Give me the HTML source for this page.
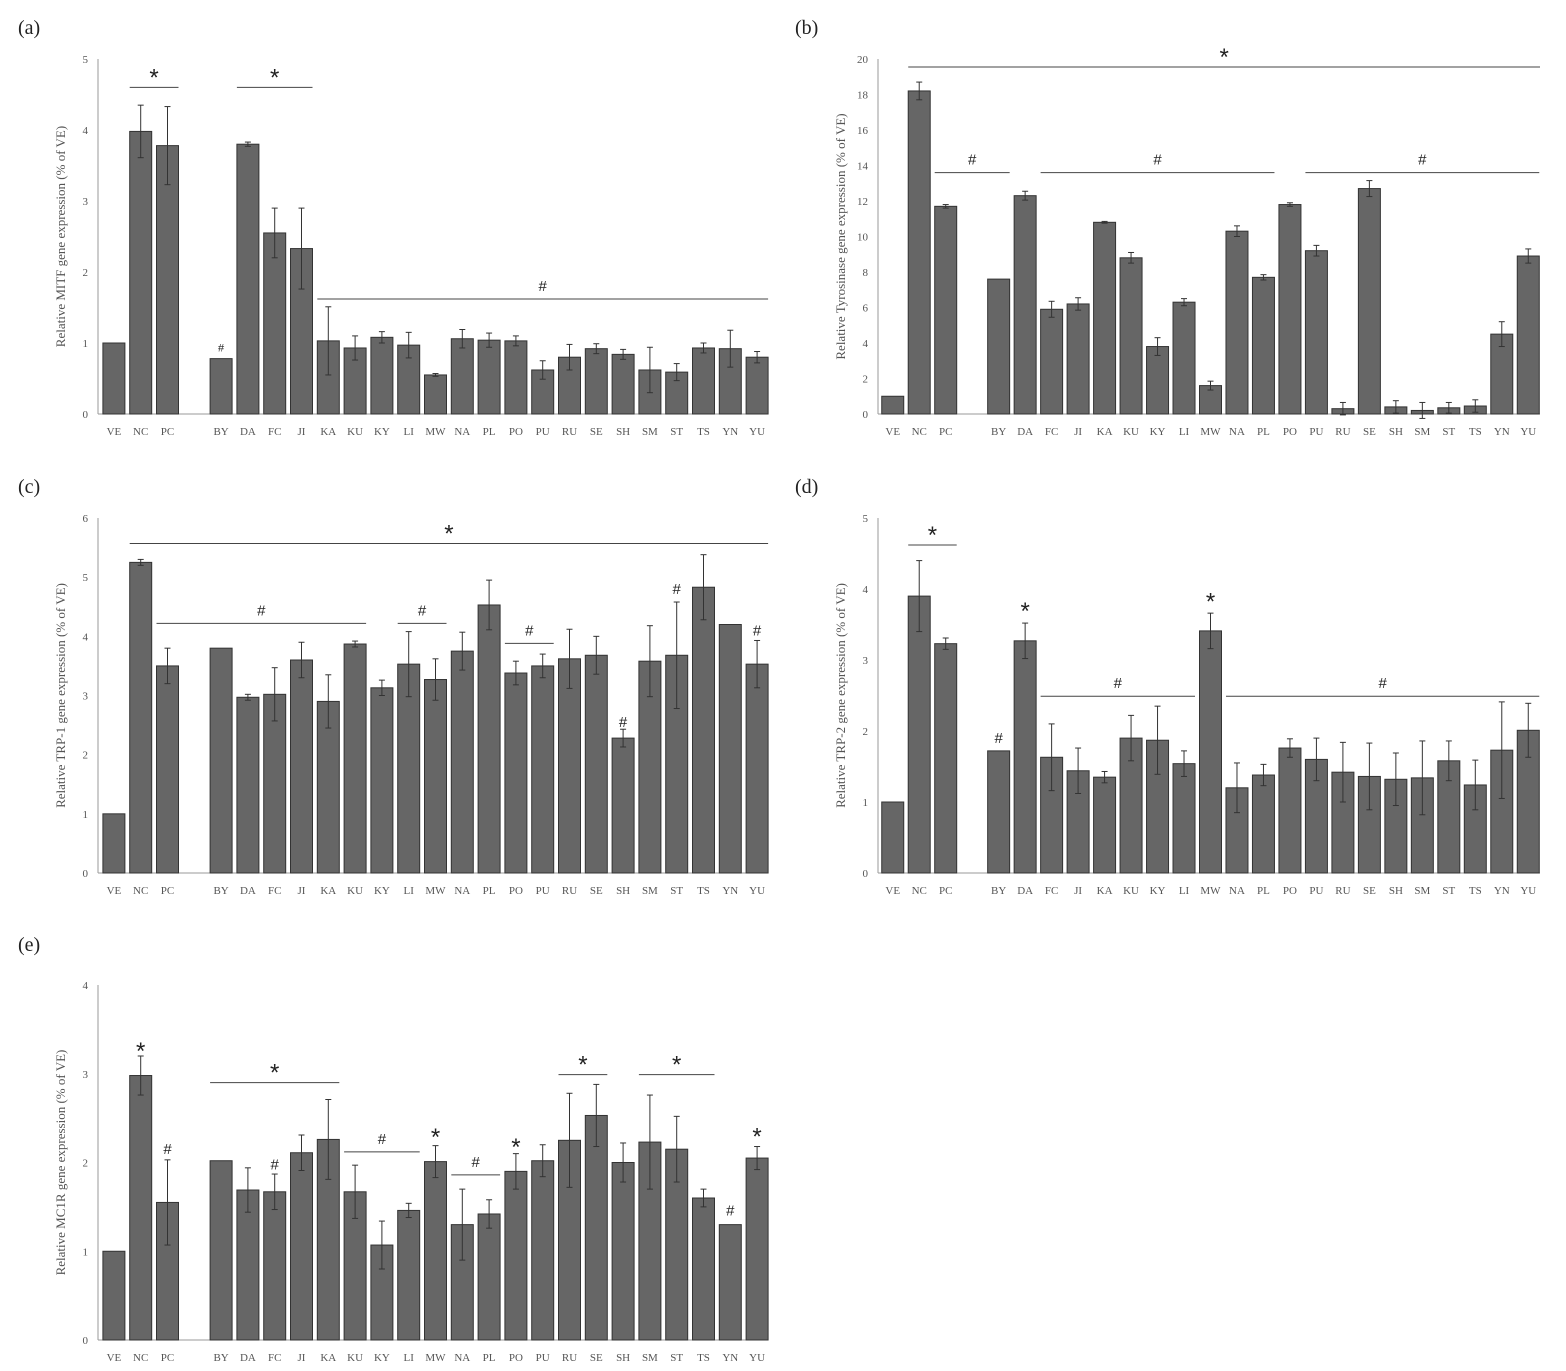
<!DOCTYPE html>
<html><head><meta charset="utf-8"><style>
body{margin:0;background:#fff}
svg{display:block;font-family:"Liberation Serif",serif}
</style></head><body>
<svg id="chart" width="1566" height="1371" viewBox="0 0 1566 1371" xmlns="http://www.w3.org/2000/svg"></svg>
<script>
const categories=["VE","NC","PC","BY","DA","FC","JI","KA","KU","KY","LI","MW","NA","PL","PO","PU","RU","SE","SH","SM","ST","TS","YN","YU"];
const valuesA=[1,3.98,3.78,0.78,3.8,2.55,2.33,1.03,0.93,1.08,0.97,0.55,1.06,1.04,1.03,0.62,0.8,0.92,0.84,0.62,0.59,0.93,0.92,0.8];
const errorsA=[0,0.37,0.55,0,0.03,0.35,0.57,0.48,0.17,0.08,0.18,0.02,0.13,0.1,0.07,0.13,0.18,0.07,0.07,0.32,0.12,0.07,0.26,0.08];
const valuesB=[1,18.2,11.7,7.6,12.3,5.9,6.2,10.8,8.8,3.8,6.3,1.6,10.3,7.7,11.8,9.2,0.3,12.7,0.4,0.2,0.35,0.45,4.5,8.9];
const errorsB=[0,0.5,0.1,0,0.25,0.45,0.35,0.05,0.3,0.5,0.2,0.25,0.3,0.15,0.1,0.3,0.35,0.45,0.35,0.45,0.3,0.35,0.7,0.4];
const valuesC=[1,5.25,3.5,3.8,2.97,3.02,3.6,2.9,3.87,3.13,3.53,3.27,3.75,4.53,3.38,3.5,3.62,3.68,2.28,3.58,3.68,4.83,4.2,3.53];
const errorsC=[0,0.05,0.3,0,0.05,0.45,0.3,0.45,0.05,0.13,0.55,0.35,0.32,0.42,0.2,0.2,0.5,0.32,0.15,0.6,0.9,0.55,0,0.4];
const valuesD=[1,3.9,3.23,1.72,3.27,1.63,1.44,1.35,1.9,1.87,1.54,3.41,1.2,1.38,1.76,1.6,1.42,1.36,1.32,1.34,1.58,1.24,1.73,2.01];
const errorsD=[0,0.5,0.08,0,0.25,0.47,0.32,0.08,0.32,0.48,0.18,0.25,0.35,0.15,0.13,0.3,0.42,0.47,0.37,0.52,0.28,0.35,0.68,0.38];
const valuesE=[1,2.98,1.55,2.02,1.69,1.67,2.11,2.26,1.67,1.07,1.46,2.01,1.3,1.42,1.9,2.02,2.25,2.53,2.0,2.23,2.15,1.6,1.3,2.05];
const errorsE=[0,0.22,0.48,0,0.25,0.2,0.2,0.45,0.3,0.27,0.08,0.18,0.4,0.16,0.2,0.18,0.53,0.35,0.22,0.53,0.37,0.1,0,0.13];
const annotA=[["*","NC","PC",4.6],["*","DA","JI",4.6],["#","KA","YU",1.62],["#s","BY","BY",0.95]];
const annotB=[["*","NC","END",19.55],["#","PC","BY",13.6],["#","FC","PL",13.6],["#","PU","YU",13.6]];
const annotC=[["*","NC","YU",5.57],["#","PC","KU",4.22],["#","LI","MW",4.22],["#","PO","PU",3.88],["#","SH","SH",2.55],["#","ST","ST",4.8],["#","YU","YU",4.1]];
const annotD=[["*","NC","PC",4.62],["*","DA","DA",3.75],["#","BY","BY",1.9],["#","FC","LI",2.49],["*","MW","MW",3.88],["#","NA","YU",2.49]];
const annotE=[["*","NC","NC",3.3],["#","PC","PC",2.15],["*","BY","KA",2.9],["#","FC","FC",1.98],["#","KU","LI",2.12],["*","MW","MW",2.33],["#","NA","PL",1.86],["*","PO","PO",2.22],["*","RU","SE",2.99],["*","SM","TS",2.99],["#","YN","YN",1.46],["*","YU","YU",2.34]];

const svg=document.getElementById('chart');
const NS="http://www.w3.org/2000/svg";
function mk(tag,attrs,parent){const e=document.createElementNS(NS,tag);for(const k in attrs)e.setAttribute(k,attrs[k]);(parent||svg).appendChild(e);return e;}

function panel(cfg){
  const g=mk('g',{});
  
  
  const {x0,x1,y0,y1,max,step,values,errors,annots,title,id,sh}=cfg;
  const yS=v=>y0-(v/max)*(y0-y1);
  const w=(x1-x0)/25;
  const slot=i=>i<3?i:i+1;
  const xC=i=>x0+sh+(slot(i)+0.5)*w;
  const idx=n=>categories.indexOf(n);
  const pl=mk('text',{x:cfg.lx,y:cfg.ly,'font-size':20,fill:'#222'},g);pl.textContent='('+id+')';
  
  mk('line',{x1:x0,y1:y0,x2:x0,y2:y1,stroke:'#999','stroke-width':1},g);
  mk('line',{x1:x0,y1:y0,x2:x1,y2:y0,stroke:'#999','stroke-width':1},g);
  for(let v=0;v<=max+1e-9;v+=step){
    const t=mk('text',{x:x0-10,y:yS(v)+4,'font-size':11,fill:'#555','text-anchor':'end'},g);t.textContent=String(v);
    
  }
  const yt=mk('text',{x:0,y:0,'font-size':13,fill:'#555','text-anchor':'middle',transform:`translate(${x0-33},${(y0+y1)/2}) rotate(-90)`},g);
  yt.textContent=title;
  categories.forEach((c,i)=>{
    const cx=xC(i);
    const b=mk('rect',{x:cx-11,y:yS(values[i]),width:22,height:y0-yS(values[i]),fill:'#666',stroke:'#333','stroke-width':1},g);
    
    if(errors[i]>0){
      const ya=yS(values[i]+errors[i]),yb=yS(values[i]-errors[i]);
      mk('line',{x1:cx,y1:ya,x2:cx,y2:yb,stroke:'#333','stroke-width':1},g);
      mk('line',{x1:cx-3,y1:ya,x2:cx+3,y2:ya,stroke:'#333','stroke-width':1},g);
      mk('line',{x1:cx-3,y1:yb,x2:cx+3,y2:yb,stroke:'#333','stroke-width':1},g);
    }
    const t=mk('text',{x:cx,y:y0+21,'font-size':11,fill:'#555','text-anchor':'middle'},g);t.textContent=c;
    
  });
  annots.forEach(a=>{
    const [s,f,to,v]=a;const y=yS(v);
    const xa=xC(idx(f))-11;const xb=to==='END'?x1:xC(idx(to))+11;
    const single=f===to;
    if(!single){const l=mk('line',{x1:xa,y1:y,x2:xb,y2:y,stroke:'#444','stroke-width':1},g);
      }
    const sym=s==='#s'?'#':s;
    const fs=s==='*'?24:(s==='#s'?11:15);
    const ty=single?(s==='*'?y+12:y+5):(s==='*'?y-2:y-8);
    const t=mk('text',{x:(xa+xb)/2,y:ty,'font-size':fs,fill:'#222','text-anchor':'middle','font-family':'Liberation Sans, sans-serif'},g);
    t.textContent=sym;
  });
}
panel({id:'a',x0:98,x1:768,y0:414,y1:59,max:5,step:1,sh:2.5,values:valuesA,errors:errorsA,annots:annotA,title:'Relative MITF gene expression (% of VE)',lx:18,ly:34});
panel({id:'b',x0:878,x1:1540,y0:414,y1:59,max:20,step:2,sh:1.5,values:valuesB,errors:errorsB,annots:annotB,title:'Relative Tyrosinase gene expression (% of VE)',lx:795,ly:34});
panel({id:'c',x0:98,x1:768,y0:873,y1:518,max:6,step:1,sh:2.5,values:valuesC,errors:errorsC,annots:annotC,title:'Relative TRP-1 gene expression (% of VE)',lx:18,ly:493});
panel({id:'d',x0:878,x1:1540,y0:873,y1:518,max:5,step:1,sh:1.5,values:valuesD,errors:errorsD,annots:annotD,title:'Relative TRP-2 gene expression (% of VE)',lx:795,ly:493});
panel({id:'e',x0:98,x1:768,y0:1340,y1:985,max:4,step:1,sh:2.5,values:valuesE,errors:errorsE,annots:annotE,title:'Relative MC1R gene expression (% of VE)',lx:18,ly:951});
</script>
</body></html>
